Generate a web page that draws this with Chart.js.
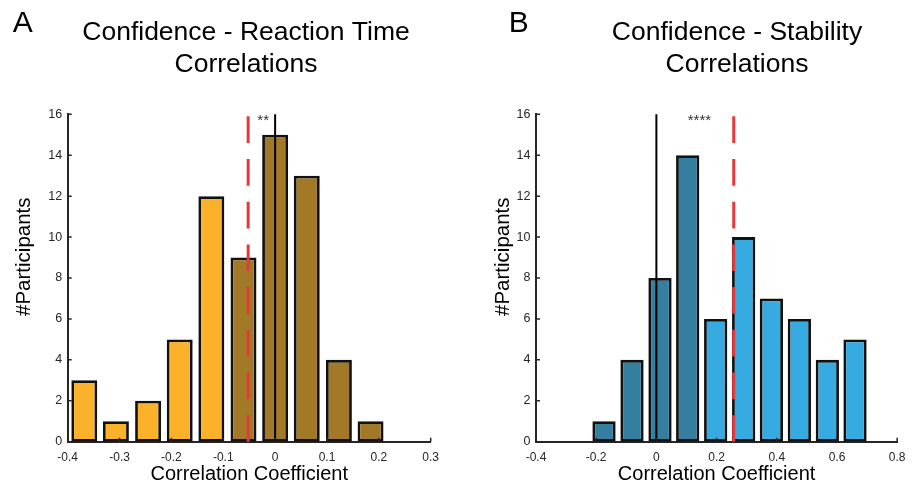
<!DOCTYPE html>
<html>
<head>
<meta charset="utf-8">
<script src="https://cdn.jsdelivr.net/npm/chart.js@4/dist/chart.umd.min.js"></script>
<style>
  html, body { margin: 0; padding: 0; background: #fff; }
  #wrap { position: relative; width: 914px; height: 487px; }
  canvas { position: absolute; top: 0; }
</style>
</head>
<body>
<div id="wrap">
  <canvas id="rtChart" width="457" height="487" style="left:0"></canvas>
  <canvas id="stChart" width="457" height="487" style="left:457px"></canvas>
</div>
<script>
// Panel A: confidence - reaction time correlations (bin centres and counts)
const rtCenters = [-0.368, -0.307, -0.245, -0.184, -0.123, -0.061, 0.000, 0.061, 0.123, 0.184];
const rtCounts = [3, 1, 2, 5, 12, 9, 15, 13, 4, 1];
const rtMean = -0.052;
const rtSplit = -0.09;
const rtTicksX = [-0.4, -0.3, -0.2, -0.1, 0, 0.1, 0.2, 0.3];
const rtStars = '**';
const rtStarX = -0.023;

// Panel B: confidence - stability correlations
const stCenters = [-0.174, -0.081, 0.012, 0.104, 0.197, 0.290, 0.382, 0.475, 0.568, 0.660];
const stCounts = [1, 4, 8, 14, 6, 10, 7, 6, 4, 5];
const stMean = 0.257;
const stSplit = 0.15;
const stTicksX = [-0.4, -0.2, 0, 0.2, 0.4, 0.6, 0.8];
const stStars = '****';
const stStarX = 0.143;

const countTicks = [0, 2, 4, 6, 8, 10, 12, 14, 16];

const FONT = "'Liberation Sans', Arial, sans-serif";
const AXIS = '#262626';

const panelDecor = {
  id: 'panelDecor',
  afterDatasetsDraw(chart, args, opts) {
    const { ctx, chartArea: a, scales: { x, y } } = chart;
    ctx.save();
    // zero line
    const x0 = x.getPixelForValue(0);
    ctx.strokeStyle = '#000';
    ctx.lineWidth = 2;
    ctx.beginPath();
    ctx.moveTo(x0, a.top);
    ctx.lineTo(x0, a.bottom);
    ctx.stroke();
    // mean line
    const xm = x.getPixelForValue(opts.mean);
    ctx.strokeStyle = '#E8383D';
    ctx.lineWidth = 3;
    ctx.setLineDash([26.7, 16]);
    ctx.beginPath();
    ctx.moveTo(xm, a.top + 2);
    ctx.lineTo(xm, a.bottom);
    ctx.stroke();
    ctx.setLineDash([]);
    // significance stars
    ctx.fillStyle = '#333';
    ctx.font = '15px ' + FONT;
    ctx.textAlign = 'center';
    ctx.textBaseline = 'alphabetic';
    ctx.fillText(opts.stars, x.getPixelForValue(opts.starX), y.getPixelForValue(15.5));
    ctx.restore();
  },
  afterDraw(chart, args, opts) {
    const { ctx, chartArea: a, scales: { x, y } } = chart;
    ctx.save();
    // inward tick marks, matlab style
    ctx.strokeStyle = AXIS;
    ctx.lineWidth = 1.5;
    ctx.beginPath();
    y.ticks.forEach(t => {
      const py = y.getPixelForValue(t.value);
      ctx.moveTo(a.left, py);
      ctx.lineTo(a.left + 4, py);
    });
    x.ticks.forEach(t => {
      const px = x.getPixelForValue(t.value);
      ctx.moveTo(px, a.bottom);
      ctx.lineTo(px, a.bottom - 4);
    });
    ctx.stroke();

    ctx.fillStyle = '#000';
    // panel letter
    ctx.font = '30px ' + FONT;
    ctx.textAlign = 'left';
    ctx.textBaseline = 'alphabetic';
    ctx.fillText(opts.letter, opts.letterX, 32.3);
    // title
    ctx.font = '26.5px ' + FONT;
    ctx.textAlign = 'center';
    opts.title.forEach((line, i) => ctx.fillText(line, opts.titleX, 40 + i * 31.7));
    // y axis title
    ctx.font = '20.5px ' + FONT;
    ctx.translate(opts.yTitleX, 256.7);
    ctx.rotate(-Math.PI / 2);
    ctx.textBaseline = 'middle';
    ctx.fillText('#Participants', 0, 0);
    ctx.restore();
  }
};

function makeChart(id, centers, counts, split, darkLeft, colors, xTicks, xMin, xMax, barPct, yWidth, padRight, decor) {
  const bg = centers.map(c => ((c < split) === darkLeft ? colors.dark : colors.light));
  return new Chart(document.getElementById(id), {
    type: 'bar',
    data: {
      datasets: [{
        data: centers.map((c, i) => ({ x: c, y: counts[i] })),
        backgroundColor: bg,
        borderColor: '#111',
        borderWidth: 2.8,
        borderSkipped: false,
        categoryPercentage: 1,
        barPercentage: barPct,
      }],
    },
    options: {
      responsive: false,
      animation: false,
      layout: { padding: { top: 114.3, right: padRight, bottom: 0, left: 0 } },
      plugins: {
        legend: { display: false },
        tooltip: { enabled: false },
        panelDecor: decor,
      },
      scales: {
        x: {
          type: 'linear',
          min: xMin,
          max: xMax,
          offset: false,
          grid: { display: false, drawTicks: false, offset: false },
          border: { display: true, color: AXIS, width: 2 },
          afterBuildTicks: s => { s.ticks = xTicks.map(v => ({ value: v })); },
          afterFit: s => { s.height = 45.3; },
          ticks: {
            padding: 8.5,
            autoSkip: false,
            maxRotation: 0,
            color: AXIS,
            font: { family: FONT, size: 12 },
            callback: v => (v === 0 ? '0' : v.toFixed(1)),
          },
          title: {
            display: true,
            text: 'Correlation Coefficient',
            color: '#000',
            font: { family: FONT, size: 20 },
            padding: { top: 0, bottom: 0.5 },
          },
        },
        y: {
          min: 0,
          max: 16,
          grid: { display: false, drawTicks: false },
          border: { display: true, color: AXIS, width: 2 },
          afterBuildTicks: s => { s.ticks = countTicks.map(v => ({ value: v })); },
          afterFit: s => { s.width = yWidth; },
          ticks: {
            padding: 5.5,
            color: AXIS,
            font: { family: FONT, size: 12.5 },
          },
        },
      },
    },
    plugins: [panelDecor],
  });
}

makeChart('rtChart', rtCenters, rtCounts, rtSplit, false,
  { light: '#FCB12B', dark: '#A27A27' }, rtTicksX, -0.4, 0.3, 0.82, 67.7, 26.3,
  { letter: 'A', letterX: 12.7, title: ['Confidence - Reaction Time', 'Correlations'], titleX: 246,
    yTitleX: 24.5, mean: rtMean, stars: rtStars, starX: rtStarX });

makeChart('stChart', stCenters, stCounts, stSplit, true,
  { light: '#36ABE1', dark: '#347E9F' }, stTicksX, -0.4, 0.8, 0.84, 79, 15.7,
  { letter: 'B', letterX: 51.7, title: ['Confidence - Stability', 'Correlations'], titleX: 280,
    yTitleX: 46, mean: stMean, stars: stStars, starX: stStarX });
</script>
</body>
</html>
